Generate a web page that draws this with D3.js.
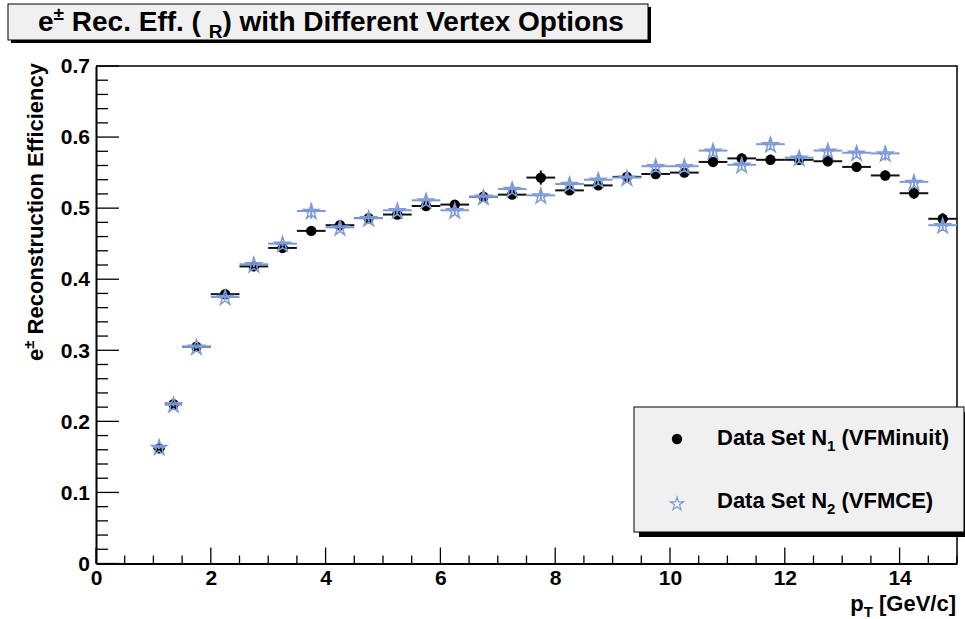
<!DOCTYPE html>
<html><head><meta charset="utf-8">
<script src="https://cdn.jsdelivr.net/npm/d3@7"></script>
<style>
html,body{margin:0;padding:0;background:#fff;}
text{font-family:"Liberation Sans",Arial,Helvetica,sans-serif;font-weight:bold;}
</style></head>
<body>
<svg id="c" width="965" height="619"></svg>
<script>
// ---- data ----
const binLow  = [1.0,1.2,1.5,2.0,2.5,3.0,3.5,4.0,4.5,5.0,5.5,6.0,6.5,7.0,7.5,8.0,8.5,9.0,9.5,10.0,10.5,11.0,11.5,12.0,12.5,13.0,13.5,14.0,14.5];
const binHigh = [1.2,1.5,2.0,2.5,3.0,3.5,4.0,4.5,5.0,5.5,6.0,6.5,7.0,7.5,8.0,8.5,9.0,9.5,10.0,10.5,11.0,11.5,12.0,12.5,13.0,13.5,14.0,14.5,15.0];
const effVFMinuit = [0.162,0.224,0.305,0.379,0.418,0.444,0.468,0.476,0.486,0.491,0.503,0.505,0.516,0.519,0.543,0.525,0.532,0.544,0.548,0.550,0.565,0.570,0.568,0.568,0.566,0.558,0.546,0.521,0.485];
const errVFMinuit = [0.003,0.003,0.003,0.004,0.004,0.004,0.005,0.005,0.005,0.005,0.006,0.006,0.006,0.006,0.010,0.006,0.006,0.006,0.006,0.006,0.006,0.007,0.007,0.007,0.007,0.007,0.007,0.008,0.008];
const effVFMCE = [0.164,0.224,0.305,0.375,0.421,0.450,0.496,0.473,0.486,0.497,0.511,0.497,0.516,0.527,0.518,0.534,0.540,0.543,0.559,0.559,0.581,0.561,0.590,0.571,0.581,0.578,0.577,0.537,0.476];
const errVFMCE = [0.003,0.003,0.003,0.004,0.004,0.004,0.011,0.005,0.005,0.005,0.006,0.006,0.006,0.006,0.007,0.006,0.006,0.006,0.006,0.006,0.008,0.007,0.008,0.007,0.007,0.007,0.010,0.008,0.008];
const xTicks = [0,2,4,6,8,10,12,14];
const yTicks = [0,0.1,0.2,0.3,0.4,0.5,0.6,0.7];

const svg = d3.select("#c");
const L=96, R=957, T=66, B=563.5;
const x = d3.scaleLinear().domain([0,15]).range([L,R]);
const y = d3.scaleLinear().domain([0,0.7]).range([B,T]);
const blue = "#7d9ad8";
const FF = "Liberation Sans, Arial, sans-serif";

// title box
svg.append("rect").attr("x",11).attr("y",7).attr("width",640).attr("height",36).attr("fill","#000");
svg.append("rect").attr("x",8).attr("y",4).attr("width",640).attr("height",36).attr("fill","#f0f0f0").attr("stroke","#000").attr("stroke-width",1);
const title = svg.append("text").attr("x",38).attr("y",31).attr("font-size",28).attr("fill","#000");
title.append("tspan").text("e");
title.append("tspan").attr("font-size",19).attr("dy",-11).text("±");
title.append("tspan").attr("dy",11).text(" Rec. Eff. (  ");
title.append("tspan").attr("font-size",19).attr("dy",7).text("R");
title.append("tspan").attr("dy",-7).text(") with Different Vertex Options");

// frame top/right
svg.append("path").attr("d",`M${L},${T}H${R}V${B}`).attr("fill","none").attr("stroke","#000").attr("stroke-width",1.5);

// y axis
const yAxisG = svg.append("g").attr("transform",`translate(${L},0)`);
yAxisG.call(d3.axisLeft(y).tickValues(yTicks).tickSize(0).tickPadding(6).tickFormat(d=>d===0?"0":d3.format(".1f")(d)));
yAxisG.select(".domain").attr("stroke","#000").attr("stroke-width",2);
yAxisG.selectAll("text").attr("font-size",21).attr("fill","#000").attr("font-family",FF).attr("font-weight","bold");
const yMinor = d3.range(0,0.7001,0.02);
yAxisG.selectAll("line.mt").data(yMinor).enter().append("line")
  .attr("x1",0).attr("x2",d=>Math.abs(Math.round(d*10)-d*10)<1e-6?23:12)
  .attr("y1",d=>y(d)).attr("y2",d=>y(d)).attr("stroke","#000").attr("stroke-width",1.3);

// x axis
const xAxisG = svg.append("g").attr("transform",`translate(0,${B})`);
xAxisG.call(d3.axisBottom(x).tickValues(xTicks).tickSize(0).tickPadding(7).tickFormat(d3.format("d")));
xAxisG.select(".domain").attr("stroke","#000").attr("stroke-width",2);
xAxisG.selectAll("text").attr("font-size",21).attr("fill","#000").attr("font-family",FF).attr("font-weight","bold");
const xMinor = d3.range(0,15.001,0.5);
xAxisG.selectAll("line.mt").data(xMinor).enter().append("line")
  .attr("y1",0).attr("y2",d=>(Math.abs(d/2-Math.round(d/2))<1e-6)?-16:-8)
  .attr("x1",d=>x(d)).attr("x2",d=>x(d)).attr("stroke","#000").attr("stroke-width",1.3);

// axis titles
const xt = svg.append("text").attr("x",956).attr("y",611).attr("text-anchor","end").attr("font-size",22).attr("fill","#000");
xt.append("tspan").text("p");
xt.append("tspan").attr("font-size",15).attr("dy",6).text("T");
xt.append("tspan").attr("dy",-6).text(" [GeV/c]");

const yt = svg.append("text").attr("transform","translate(43,63) rotate(-90)").attr("text-anchor","end").attr("font-size",22).attr("fill","#000");
yt.append("tspan").text("e");
yt.append("tspan").attr("font-size",15).attr("dy",-9).text("±");
yt.append("tspan").attr("dy",9).text(" Reconstruction Efficiency");

// data
const idx = d3.range(effVFMinuit.length);
const center = i => (binLow[i]+binHigh[i])/2;
const star = d3.symbol().type(d3.symbolStar).size(70);

function drawSeries(vals, errs, color, isStar){
  const g = svg.append("g");
  g.selectAll("line.h").data(idx).enter().append("line")
    .attr("x1",i=>x(binLow[i])).attr("x2",i=>x(binHigh[i]))
    .attr("y1",i=>y(vals[i])).attr("y2",i=>y(vals[i]))
    .attr("stroke",color).attr("stroke-width",2);
  g.selectAll("line.v").data(idx).enter().append("line")
    .attr("x1",i=>x(center(i))).attr("x2",i=>x(center(i)))
    .attr("y1",i=>y(vals[i]-errs[i])).attr("y2",i=>y(vals[i]+errs[i]))
    .attr("stroke",color).attr("stroke-width",2);
  if(isStar){
    g.selectAll("path.s").data(idx).enter().append("path")
      .attr("d",star).attr("transform",i=>`translate(${x(center(i))},${y(vals[i])+1})`)
      .attr("fill","none").attr("stroke",color).attr("stroke-width",1.5);
  } else {
    g.selectAll("circle").data(idx).enter().append("circle")
      .attr("cx",i=>x(center(i))).attr("cy",i=>y(vals[i])).attr("r",5.2).attr("fill","#000");
  }
}
drawSeries(effVFMinuit, errVFMinuit, "#111", false);
drawSeries(effVFMCE, errVFMCE, blue, true);

// legend
svg.append("rect").attr("x",639).attr("y",412).attr("width",330).attr("height",125).attr("fill","#000");
svg.append("rect").attr("x",634).attr("y",407).attr("width",330).attr("height",125).attr("fill","#f0f0f0").attr("stroke","#000").attr("stroke-width",1);
svg.append("circle").attr("cx",677).attr("cy",439).attr("r",5.2).attr("fill","#000");
svg.append("path").attr("d",d3.symbol().type(d3.symbolStar).size(55)).attr("transform","translate(677,504)").attr("fill","none").attr("stroke",blue).attr("stroke-width",1.2);
const legendLabels = [["Data Set N","1"," (VFMinuit)"],["Data Set N","2"," (VFMCE)"]];
legendLabels.forEach((lab,k)=>{
  const t = svg.append("text").attr("x",717).attr("y",k===0?445:508).attr("font-size",22).attr("fill","#000");
  t.append("tspan").text(lab[0]);
  t.append("tspan").attr("font-size",15).attr("dy",6).text(lab[1]);
  t.append("tspan").attr("dy",-6).text(lab[2]);
});
</script>
</body></html>
